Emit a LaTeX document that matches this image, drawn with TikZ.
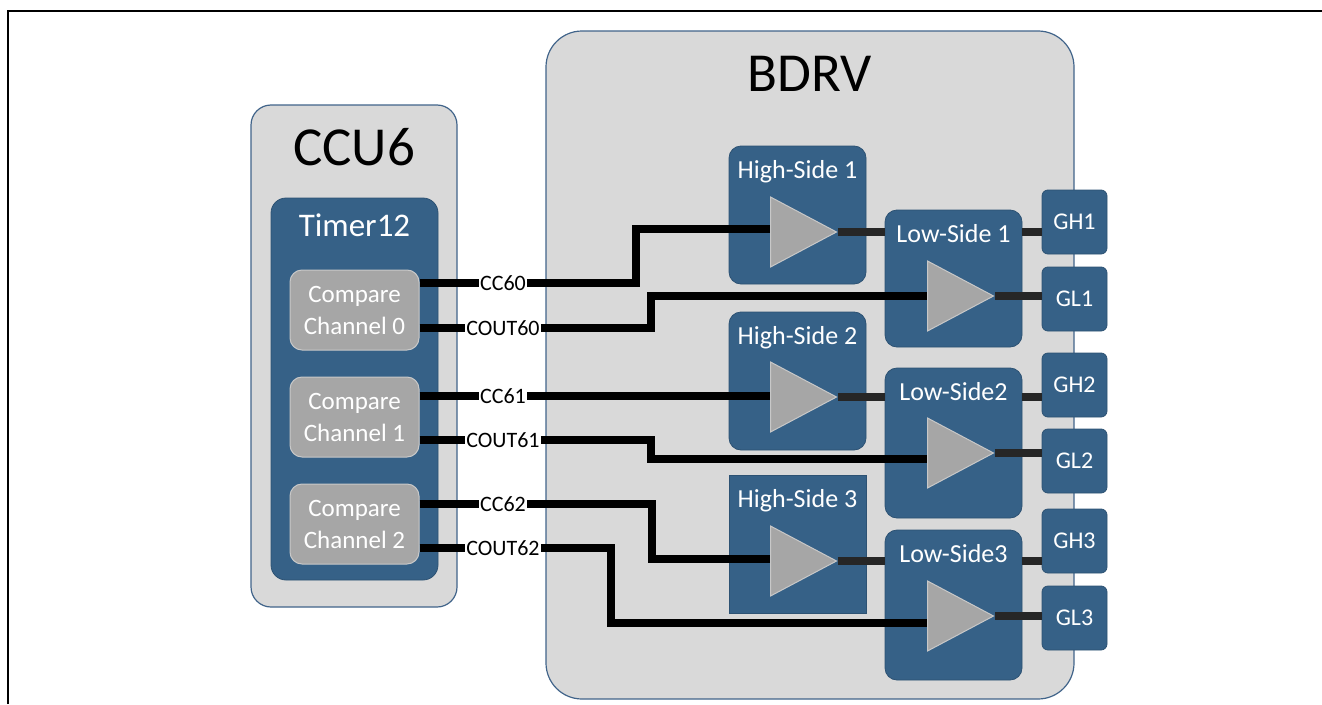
\documentclass[tikz,border=0pt]{standalone}
\usepackage{fontspec}
\setmainfont{Carlito}
\usepackage{xcolor}
\usepackage{tikz}
\usetikzlibrary{shapes.geometric, positioning}
\definecolor{panelgray}{RGB}{217,217,217}
\definecolor{paneledge}{RGB}{65,100,138}
\definecolor{blockblue}{RGB}{54,97,135}
\definecolor{blockedge}{RGB}{45,82,115}
\definecolor{chgray}{RGB}{166,166,166}
\definecolor{chedge}{RGB}{200,200,200}
\definecolor{wiredark}{RGB}{38,38,38}

\begin{document}
\begin{tikzpicture}[x=1pt, y=-1pt,
    panel/.style={draw=paneledge, line width=1.2pt, fill=panelgray, rounded corners=20pt, inner sep=0pt},
    block/.style={draw=blockedge, line width=0.8pt, fill=blockblue, rounded corners=12pt, inner sep=0pt},
    pin/.style={block, rounded corners=6pt, minimum width=65pt, minimum height=64pt, text=white, font=\fontsize{24}{28}\selectfont},
    chan/.style={draw=chedge, line width=1pt, fill=chgray, rounded corners=12pt, minimum width=129pt, minimum height=80pt, text=white, align=center, font=\fontsize{25}{32}\selectfont},
    amp/.style={isosceles triangle, isosceles triangle stretches=true, draw=chedge, line width=1pt, fill=chgray, minimum width=70pt, minimum height=66pt, inner sep=0pt, anchor=west},
    bigtitle/.style={anchor=base, font=\fontsize{55}{60}\selectfont},
    blocktitle/.style={anchor=base, text=white, font=\fontsize{26}{30}\selectfont},
    sig/.style={line width=8pt, black},
    drv/.style={line width=8pt, wiredark},
    siglabel/.style={fill=white, inner sep=1pt, font=\fontsize{22}{24}\selectfont}
]
    \useasboundingbox (0,0) rectangle (1322,704);
    \draw[line width=1.5pt] (8,704) -- (8,11) -- (1322,11);

    % CCU6
    \node[panel, minimum width=206pt, minimum height=502pt] (ccu) at (354,356) {};
    \node[bigtitle] (ccut) at ([yshift=-61pt]ccu.north) {CCU6};
    \node[block, rounded corners=15pt, minimum width=167pt, minimum height=382pt] (timer) at (354.5,389) {};
    \node[blocktitle, font=\fontsize{33}{36}\selectfont] (timert) at ([yshift=-39pt]timer.north) {Timer12};
    \foreach \i in {0,1,2}
        \node[chan] (cmp\i) at (354.5,310+107*\i) {Compare\\Channel \i};

    % BDRV
    \node[panel, rounded corners=36pt, minimum width=528pt, minimum height=668pt] (bdrv) at (810,365) {};
    \node[bigtitle] (bdrvt) at ([yshift=-61pt]bdrv.north) {BDRV};

    % High-Side drivers
    \foreach \i/\y/\ay/\rc in {1/215/232/12pt, 2/381/397/12pt, 3/544/561/0pt} {
        \node[block, rounded corners=\rc, minimum width=137pt, minimum height=138pt] (hs\i) at (797.5,\y) {};
        \node[blocktitle] (hst\i) at ([yshift=-33pt]hs\i.north) {High-Side \i};
        \node[amp] (ampH\i) at (770,\ay) {};
    }

    % Low-Side drivers
    \foreach \i/\y/\h/\ay/\txt in {1/278.5/137/296/Low-Side 1, 2/443/150/453/Low-Side2, 3/605/150/616/Low-Side3} {
        \node[block, minimum width=137pt, minimum height=\h pt] (ls\i) at (953.5,\y) {};
        \node[blocktitle] (lst\i) at ([yshift=-33pt]ls\i.north) {\txt};
        \node[amp] (ampL\i) at (927,\ay) {};
    }

    % Gate pins
    \foreach \i/\yh/\yl in {1/222/299, 2/385/461, 3/541/618} {
        \node[pin] (gh\i) at (1074.5,\yh) {GH\i};
        \node[pin] (gl\i) at (1074.5,\yl) {GL\i};
    }

    % Compare outputs
    \foreach \src/\y/\txt/\bx/\dst/\dy in {
        cmp0/283/CC60/636/ampH1/3,
        cmp0/328/COUT60/651/ampL1/0,
        cmp1/396/CC61/651/ampH2/1,
        cmp1/440/COUT61/651/ampL2/-6,
        cmp2/504/CC62/652/ampH3/2,
        cmp2/548/COUT62/611/ampL3/-7
    } {
        \node[siglabel] (lbl\txt) at (503,\y) {\txt};
        \draw[sig] (\src.east |- lbl\txt) -- (lbl\txt.west);
        \draw[sig] (lbl\txt.east) -- (\bx,\y) |- ([yshift=\dy pt]\dst.west);
    }

    % Driver outputs
    \foreach \i in {1,2,3} {
        \draw[drv] (ampH\i.apex) -- (ampH\i.apex -| ls\i.west);
        \draw[drv] (ampH\i.apex -| ls\i.east) -- (ampH\i.apex -| gh\i.west);
        \draw[drv] (ampL\i.apex) -- (ampL\i.apex -| gl\i.west);
    }
\end{tikzpicture}
\end{document}
